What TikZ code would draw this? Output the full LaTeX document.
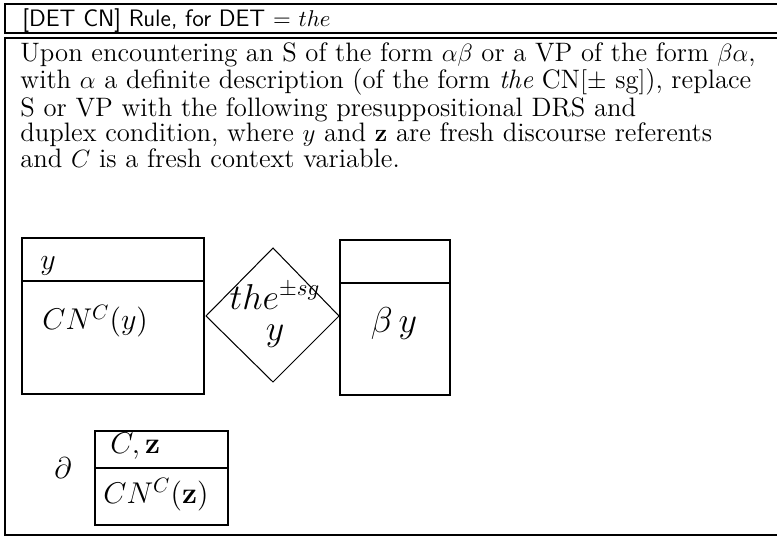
\documentclass[tikz,border=0pt]{standalone}
\usepackage{amsmath,amssymb}
\usetikzlibrary{positioning}

\begin{document}
\begin{tikzpicture}[x=0.48pt, y=-0.48pt, every node/.style={inner sep=0pt}, frame/.style={line width=1pt}, drs/.style={line width=1.2pt}, cond/.style={font=\Large, anchor=base west}]
\useasboundingbox (0,0) rectangle (777,537);
% title bar
\draw[frame] (5,4) rectangle (790,33);
\node[anchor=base west, font=\fontsize{11.4}{13}\selectfont\sffamily] (title) at (22,27) {[DET CN] Rule, for DET $=$ $the$};
% rule body
\draw[frame] (5,38) rectangle (790,535);
\node[anchor=north west, align=left, font=\fontsize{12.8}{12.2}\selectfont] (rule) at (20,42) {Upon encountering an S of the form $\alpha\beta$ or a VP of the form $\beta\alpha$,\\
with $\alpha$ a definite description (of the form \textit{the} CN$[\pm$ sg$]$), replace\\
S or VP with the following presuppositional DRS and\\
duplex condition, where $y$ and $\mathbf{z}$ are fresh discourse referents\\
and $C$ is a fresh context variable.};
% restrictor box
\draw[drs] (22,238) rectangle (204,394);
\draw[drs] (22,281) -- (204,281);
\node[cond] (ref) at (40,270) {$y$};
\node[cond] (restr) at (42,330) {$CN^C(y)$};
% duplex diamond
\coordinate (dt) at (273,248);
\coordinate (dr) at (339,316);
\coordinate (db) at (273,382);
\coordinate (dl) at (206,316);
\draw[line width=0.5pt] (dt) -- (dr) -- (db) -- (dl) -- cycle;
\node[font=\fontsize{16}{15}\selectfont, align=center] (det) at (275,315) {$the^{\pm sg}$\\$y$};
% scope box
\draw[drs] (340,240) rectangle (450,395);
\draw[drs] (340,283) -- (450,283);
\node[font=\LARGE, anchor=base] (scope) at (394,333) {$\beta\,y$};
% presupposition
\node[font=\Large, anchor=base] (part) at (63,478) {$\partial$};
\draw[drs] (95,431) rectangle (228,525);
\draw[drs] (95,468) -- (228,468);
\node[cond] (pref) at (110,453) {$C,\mathbf{z}$};
\node[cond] (pcond) at (103,503) {$CN^C(\mathbf{z})$};
\end{tikzpicture}
\end{document}
